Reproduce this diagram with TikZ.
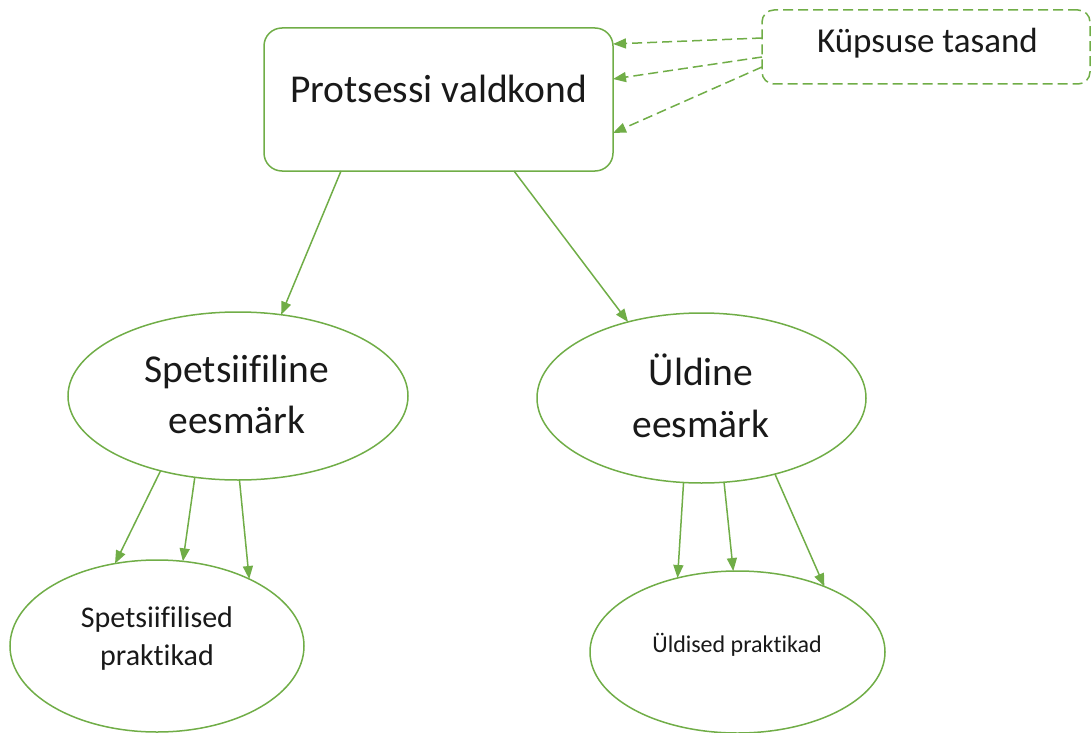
\documentclass[tikz,border=0pt]{standalone}
\usepackage{fontspec}
\setmainfont{Carlito}[RawFeature={-liga,-clig,-dlig}]
\usetikzlibrary{arrows.meta,shapes.geometric}
\definecolor{leaf}{HTML}{70AD47}
\begin{document}
\begin{tikzpicture}[x=1pt,y=-1pt,
  every node/.style={inner sep=0pt,outer sep=0pt},
  box/.style={draw=leaf,line width=1.5pt,rectangle,rounded corners=18pt},
  dashbox/.style={draw=leaf,line width=1.5pt,rectangle,rounded corners=12pt,dash pattern=on 10pt off 5pt},
  oval/.style={draw=leaf,line width=1.5pt,ellipse},
  link/.style={draw=leaf,line width=1.5pt,-{Triangle[length=13pt,width=10pt]}},
  dlink/.style={link,dash pattern=on 10pt off 5pt},
  txt/.style={anchor=base,align=center,text=black!90}]
\useasboundingbox (0,0) rectangle (1092,733);

% top boxes
\node[box,minimum width=349pt,minimum height=143pt] (proc) at (438.5,99.5) {};
\node[txt,font=\fontsize{39.5}{48}\selectfont] (procT) at (438.5,103) {Protsessi valdkond};
\node[dashbox,minimum width=328pt,minimum height=74pt] (kup) at (926,47) {};
\node[txt,font=\fontsize{35}{42}\selectfont] (kupT) at (927.5,53) {Küpsuse tasand};

% goals (anchor base sits on the last line)
\node[oval,minimum width=340pt,minimum height=168pt] (spec) at (238,396) {};
\node[txt,font=\fontsize{39.5}{51}\selectfont] (specT) at (237,433) {Spetsiifiline\\eesmärk};
\node[oval,minimum width=329pt,minimum height=170pt] (gen) at (701.5,398) {};
\node[txt,font=\fontsize{39.5}{52}\selectfont] (genT) at (701,437) {Üldine\\eesmärk};

% practices
\node[oval,minimum width=294pt,minimum height=172pt] (specP) at (157,646) {};
\node[txt,font=\fontsize{30}{38}\selectfont] (specPT) at (157,665) {Spetsiifilised\\praktikad};
\node[oval,minimum width=295pt,minimum height=162pt] (genP) at (737.5,652) {};
\node[txt,font=\fontsize{24}{29}\selectfont] (genPT) at (737,652) {Üldised praktikad};

% maturity level to process area
\draw[dlink] ([yshift=9pt]kup.west) -- ([yshift=55.5pt]proc.east);
\draw[dlink] ([yshift=-10pt]kup.west) -- ([yshift=20.5pt]proc.east);
\draw[dlink] ([yshift=-20pt]kup.west) -- ([yshift=-33.5pt]proc.east);

% process area to goals
\draw[link] ([xshift=-97.5pt]proc.south) -- (spec.62.1);
\draw[link] ([xshift=75.5pt]proc.south) -- (gen.134.1);

% goals to practices
\draw[link] (spec.224.6) -- (specP.117.1);
\draw[link] (spec.242.4) -- (specP.73.4);
\draw[link] (spec.271.4) -- (specP.36.6);
\draw[link] (gen.258) -- (genP.129.3);
\draw[link] (gen.285.2) -- (genP.93.2);
\draw[link] (gen.314.1) -- (genP.37.2);
\end{tikzpicture}
\end{document}
